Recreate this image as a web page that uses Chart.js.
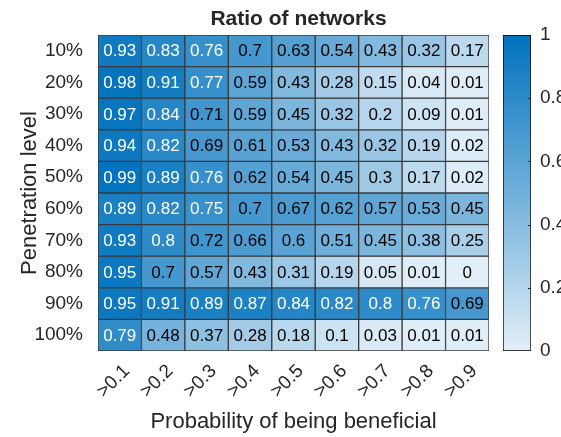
<!DOCTYPE html>
<html>
<head>
<meta charset="utf-8">
<script src="https://cdn.jsdelivr.net/npm/chart.js@4/dist/chart.umd.min.js"></script>
<style>
  html, body { margin: 0; padding: 0; background: #fff; overflow: hidden; width: 561px; height: 437px; }
  canvas { position: absolute; left: 0; top: 0; }
</style>
</head>
<body>
<canvas id="heat" width="561" height="437"></canvas>
<canvas id="cbar" width="600" height="437"></canvas>
<script>
// Threshold categories (columns) and penetration levels (rows)
const thresholds = ['>0.1', '>0.2', '>0.3', '>0.4', '>0.5', '>0.6', '>0.7', '>0.8', '>0.9'];
const levels = ['10%', '20%', '30%', '40%', '50%', '60%', '70%', '80%', '90%', '100%'];

// Ratio of networks for each penetration level
const r10  = [0.93, 0.83, 0.76, 0.7, 0.63, 0.54, 0.43, 0.32, 0.17];
const r20  = [0.98, 0.91, 0.77, 0.59, 0.43, 0.28, 0.15, 0.04, 0.01];
const r30  = [0.97, 0.84, 0.71, 0.59, 0.45, 0.32, 0.2, 0.09, 0.01];
const r40  = [0.94, 0.82, 0.69, 0.61, 0.53, 0.43, 0.32, 0.19, 0.02];
const r50  = [0.99, 0.89, 0.76, 0.62, 0.54, 0.45, 0.3, 0.17, 0.02];
const r60  = [0.89, 0.82, 0.75, 0.7, 0.67, 0.62, 0.57, 0.53, 0.45];
const r70  = [0.93, 0.8, 0.72, 0.66, 0.6, 0.51, 0.45, 0.38, 0.25];
const r80  = [0.95, 0.7, 0.57, 0.43, 0.31, 0.19, 0.05, 0.01, 0];
const r90  = [0.95, 0.91, 0.89, 0.87, 0.84, 0.82, 0.8, 0.76, 0.69];
const r100 = [0.79, 0.48, 0.37, 0.28, 0.18, 0.1, 0.03, 0.01, 0.01];
const ratios = [r10, r20, r30, r40, r50, r60, r70, r80, r90, r100];

// Colorbar range and ticks
const cbarTicks = [0, 0.2, 0.4, 0.6, 0.8, 1];

const LOW = [226, 238, 248];
const HIGH = [0, 114, 189];
function colorFor(v) {
  const c = LOW.map((l, i) => Math.round(l + (HIGH[i] - l) * v));
  return `rgb(${c[0]},${c[1]},${c[2]})`;
}

const AXIS_TEXT = '#262626';
const FONT = '"Liberation Sans", Arial, sans-serif';

// Cell value labels
const cellLabels = {
  id: 'cellLabels',
  afterDatasetsDraw(chart) {
    const ctx = chart.ctx;
    ctx.save();
    ctx.font = `17px ${FONT}`;
    ctx.textAlign = 'center';
    ctx.textBaseline = 'middle';
    chart.data.datasets.forEach((ds, r) => {
      const meta = chart.getDatasetMeta(r);
      meta.data.forEach((bar, c) => {
        const v = ratios[r][c];
        const cy = (bar.y + bar.base) / 2;
        ctx.fillStyle = v > 0.73 ? '#ffffff' : '#000000';
        ctx.fillText(String(v), bar.x, cy + 1);
      });
    });
    ctx.restore();
  }
};

// Title above the plot area
const plotTitle = {
  id: 'plotTitle',
  afterDraw(chart) {
    const a = chart.chartArea;
    const ctx = chart.ctx;
    ctx.save();
    ctx.font = `bold 21px ${FONT}`;
    ctx.fillStyle = AXIS_TEXT;
    ctx.textAlign = 'center';
    ctx.textBaseline = 'middle';
    ctx.fillText('Ratio of networks', (a.left + a.right) / 2 + 5, 19);
    ctx.restore();
  }
};

new Chart(document.getElementById('heat'), {
  type: 'bar',
  data: {
    labels: thresholds,
    datasets: ratios.map((row, r) => ({
      label: levels[r],
      data: row.map(() => [r, r + 1]),
      backgroundColor: row.map(colorFor),
      borderColor: '#3a3a3a',
      borderWidth: 1,
      borderSkipped: false,
      grouped: false,
      barPercentage: 1,
      categoryPercentage: 1
    }))
  },
  options: {
    responsive: false,
    animation: false,
    events: [],
    layout: { padding: { top: 35, right: 72, bottom: 0, left: 0 } },
    plugins: { legend: { display: false }, tooltip: { enabled: false }, title: { display: false } },
    scales: {
      x: {
        type: 'category',
        offset: true,
        grid: { display: false },
        border: { display: false },
        ticks: { minRotation: 45, maxRotation: 45, padding: 1, labelOffset: 7, color: AXIS_TEXT, font: { family: FONT, size: 19 } },
        title: { display: true, text: 'Probability of being beneficial', color: AXIS_TEXT, font: { family: FONT, size: 22 }, padding: { top: 0, bottom: 2 } },
        afterFit(s) { s.height = 86; }
      },
      y: {
        type: 'linear',
        min: 0,
        max: 10,
        reverse: true,
        grid: { display: false },
        border: { display: false },
        afterBuildTicks(s) { s.ticks = levels.map((_, i) => ({ value: i + 0.5 })); },
        ticks: {
          padding: 7,
          color: AXIS_TEXT,
          font: { family: FONT, size: 19 },
          callback: v => levels[Math.floor(v)]
        },
        title: { display: true, text: 'Penetration level', color: AXIS_TEXT, font: { family: FONT, size: 22 }, padding: { top: 17, bottom: 0 } },
        afterFit(s) { s.width = 98; }
      }
    }
  },
  plugins: [cellLabels, plotTitle]
});

// Colorbar
const innerTicks = {
  id: 'innerTicks',
  afterDatasetsDraw(chart) {
    const y = chart.scales.y;
    const a = chart.chartArea;
    const ctx = chart.ctx;
    ctx.save();
    ctx.strokeStyle = AXIS_TEXT;
    ctx.lineWidth = 1;
    cbarTicks.slice(1, -1).forEach(t => {
      const py = Math.round(y.getPixelForValue(t)) + 0.5;
      ctx.beginPath();
      ctx.moveTo(a.right, py);
      ctx.lineTo(a.right - 3, py);
      ctx.stroke();
    });
    ctx.restore();
  }
};

new Chart(document.getElementById('cbar'), {
  type: 'bar',
  data: {
    labels: [''],
    datasets: [{
      data: [[cbarTicks[0], cbarTicks[cbarTicks.length - 1]]],
      backgroundColor(ctx) {
        const a = ctx.chart.chartArea;
        if (!a) return colorFor(0.5);
        const g = ctx.chart.ctx.createLinearGradient(0, a.bottom, 0, a.top);
        for (let i = 0; i <= 10; i++) g.addColorStop(i / 10, colorFor(i / 10));
        return g;
      },
      borderColor: '#000000',
      borderWidth: 1,
      borderSkipped: false,
      barPercentage: 1,
      categoryPercentage: 1
    }]
  },
  options: {
    responsive: false,
    animation: false,
    events: [],
    layout: { padding: { top: 35, right: 0, bottom: 86, left: 503 } },
    plugins: { legend: { display: false }, tooltip: { enabled: false } },
    scales: {
      x: { display: false, offset: true },
      y: {
        position: 'right',
        min: 0,
        max: 1,
        grid: { display: false, drawTicks: false },
        border: { display: false },
        afterBuildTicks(s) { s.ticks = cbarTicks.map(v => ({ value: v })); },
        ticks: { padding: 9, color: AXIS_TEXT, font: { family: FONT, size: 19 }, callback: v => String(+v.toFixed(1)) },
        afterFit(s) { s.width = 69; }
      }
    }
  },
  plugins: [innerTicks]
});
</script>
</body>
</html>
